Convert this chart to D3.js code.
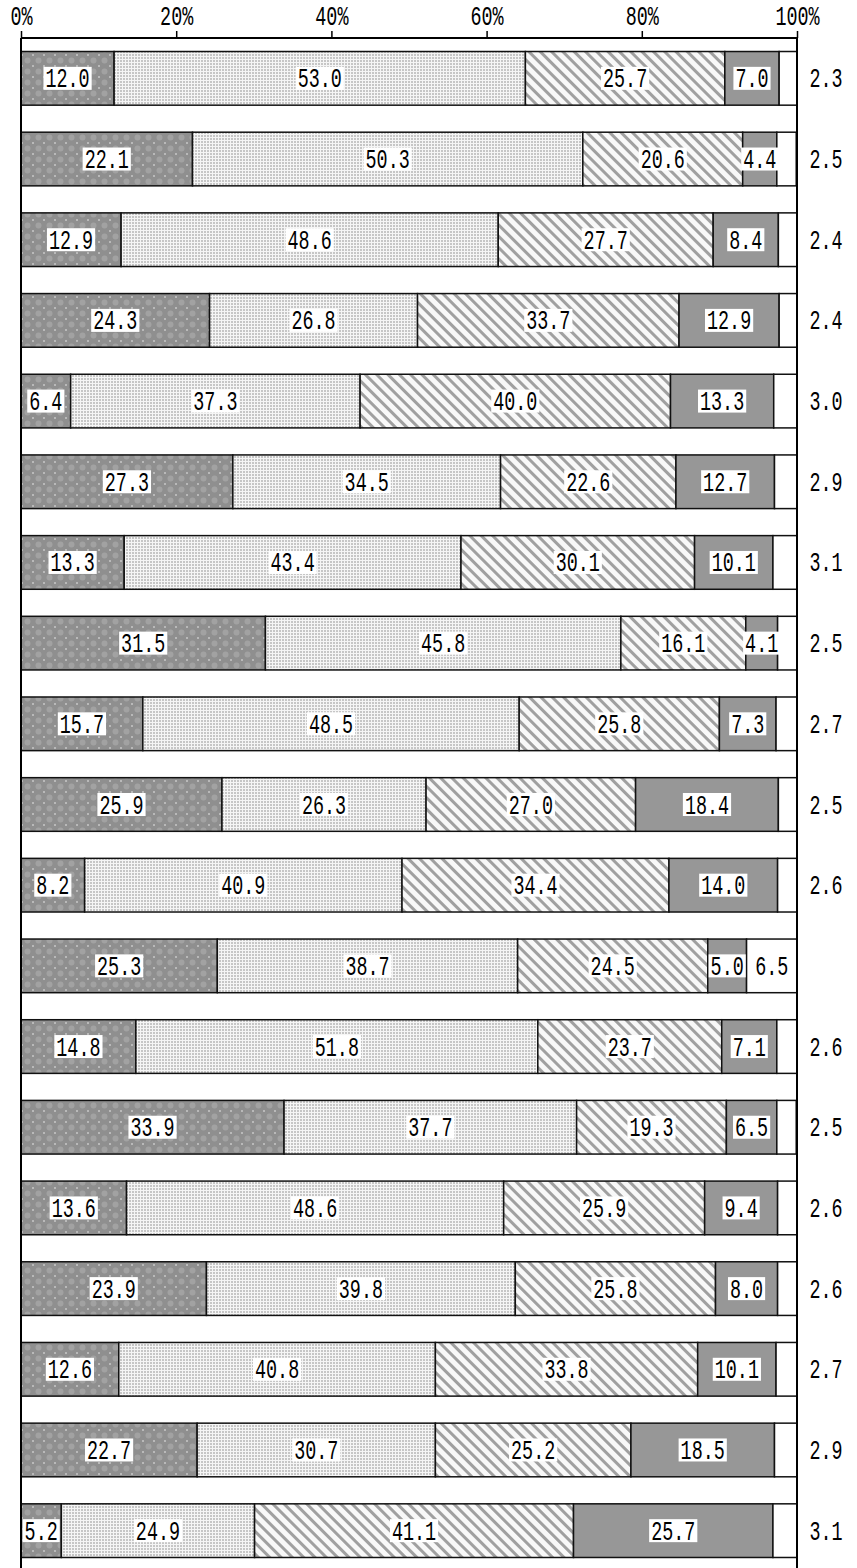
<!DOCTYPE html>
<html><head><meta charset="utf-8">
<script src="https://cdn.jsdelivr.net/npm/d3@7"></script>
<style>body{margin:0;background:#fff}</style>
</head><body>
<script>
const rows = d3.range(19);
const s1 = [12.0,22.1,12.9,24.3,6.4,27.3,13.3,31.5,15.7,25.9,8.2,25.3,14.8,33.9,13.6,23.9,12.6,22.7,5.2];
const s2 = [53.0,50.3,48.6,26.8,37.3,34.5,43.4,45.8,48.5,26.3,40.9,38.7,51.8,37.7,48.6,39.8,40.8,30.7,24.9];
const s3 = [25.7,20.6,27.7,33.7,40.0,22.6,30.1,16.1,25.8,27.0,34.4,24.5,23.7,19.3,25.9,25.8,33.8,25.2,41.1];
const s4 = [7.0,4.4,8.4,12.9,13.3,12.7,10.1,4.1,7.3,18.4,14.0,5.0,7.1,6.5,9.4,8.0,10.1,18.5,25.7];
const s5 = [2.3,2.5,2.4,2.4,3.0,2.9,3.1,2.5,2.7,2.5,2.6,6.5,2.6,2.5,2.6,2.6,2.7,2.9,3.1];
const tickVals = [0,20,40,60,80,100];
const seriesList = [s1,s2,s3,s4,s5];

const W=857,H=1568;
const svg=d3.select("body").append("svg").attr("width",W).attr("height",H);
const defs=svg.append("defs");
// pattern 1: dark gray with light blobs
const p1=defs.append("pattern").attr("id","p1").attr("patternUnits","userSpaceOnUse").attr("width",11).attr("height",11);
p1.append("rect").attr("width",11).attr("height",11).attr("fill","#8f8f8f");
p1.append("circle").attr("cx",5.5).attr("cy",5.5).attr("r",3).attr("fill","#a2a2a2");
[[0,0],[11,0],[0,11],[11,11]].forEach(([a,b])=>p1.append("circle").attr("cx",a).attr("cy",b).attr("r",1).attr("fill","#c8c8c8"));
// pattern 2: fine dots
const p2=defs.append("pattern").attr("id","p2").attr("patternUnits","userSpaceOnUse").attr("width",3).attr("height",3);
p2.append("rect").attr("width",3).attr("height",3).attr("fill","#f5f5f5");
p2.append("rect").attr("width",2).attr("height",2).attr("fill","#c6c6c6");
// pattern 3: diagonal stripes "\"
const p3=defs.append("pattern").attr("id","p3").attr("patternUnits","userSpaceOnUse").attr("width",8).attr("height",8).attr("patternTransform","rotate(-45)");
p3.append("rect").attr("width",8).attr("height",8).attr("fill","#f8f8f8");
p3.append("rect").attr("width",3).attr("height",8).attr("fill","#a0a0a0");

const fills=["url(#p1)","url(#p2)","url(#p3)","#979797","#ffffff"];

const x=d3.scaleLinear().domain([0,100]).range([21,797]);
const y=d3.scaleBand().domain(rows).range([38,1571]).paddingInner(0.335).paddingOuter(0.1675);

const FS=27.5, SX=0.67, FONT="'Liberation Mono', 'DejaVu Sans Mono', monospace";

// axis
const axis=d3.axisTop(x).tickValues(tickVals).tickSize(7).tickFormat(d=>d+"%");
const ag=svg.append("g").attr("transform","translate(0,38)").call(axis);
ag.select(".domain").remove();
ag.selectAll(".tick line").attr("stroke","#000").attr("stroke-width",1.5);
ag.selectAll(".tick text").each(function(){
  const t=d3.select(this); const txt=t.text(); const tr=d3.select(this.parentNode);
  t.remove();
  tr.append("text").attr("transform",`translate(0,-13) scale(${SX},1)`).attr("text-anchor","middle")
    .attr("font-family",FONT).attr("font-size",FS).attr("fill","#000").text(txt);
});

// stacked
const stackData=rows.map(i=>{let c=0;return seriesList.map((s,k)=>{const v=s[i];const o={row:i,k,x0:c,x1:c+v,v};c+=v;return o;});});

const rg=svg.selectAll("g.row").data(stackData).join("g").attr("class","row");
rg.selectAll("rect").data(d=>d).join("rect")
  .attr("x",d=>x(d.x0)).attr("y",d=>y(d.row)).attr("width",d=>Math.max(0,Math.min(x(d.x1),x(100))-x(d.x0)))
  .attr("height",y.bandwidth()).attr("fill",d=>fills[d.k]).attr("stroke","#111").attr("stroke-width",1.5);

// frame lines
svg.append("line").attr("x1",21).attr("x2",797).attr("y1",38).attr("y2",38).attr("stroke","#000").attr("stroke-width",2);
svg.append("line").attr("x1",21).attr("x2",21).attr("y1",38).attr("y2",H).attr("stroke","#000").attr("stroke-width",2);
svg.append("line").attr("x1",797).attr("x2",797).attr("y1",38).attr("y2",H).attr("stroke","#000").attr("stroke-width",2);

function label(g,cx,cy,txt,bg){
  const grp=g.append("g");
  const t=grp.append("text").attr("transform",`translate(${cx},${cy+9}) scale(${SX},1)`).attr("text-anchor","middle")
    .attr("font-family",FONT).attr("font-size",FS).attr("fill","#000").text(txt);
  if(bg){
    const w=t.node().getComputedTextLength()*SX+4;
    grp.insert("rect","text").attr("x",cx-w/2).attr("y",cy-11.5).attr("width",w).attr("height",23).attr("fill","#fff");
  }
}
const lg=svg.append("g");
stackData.forEach(r=>{
  r.forEach(d=>{
    const cy=y(d.row)+y.bandwidth()/2;
    const txt=d.v.toFixed(1);
    if(d.k<4){ label(lg,(x(d.x0)+x(d.x1))/2,cy,txt,true); }
    else if(d.v>=5){ label(lg,(x(d.x0)+x(100))/2,cy,txt,false); }
    else { label(lg,826,cy,txt,false); }
  });
});
</script>
</body></html>
